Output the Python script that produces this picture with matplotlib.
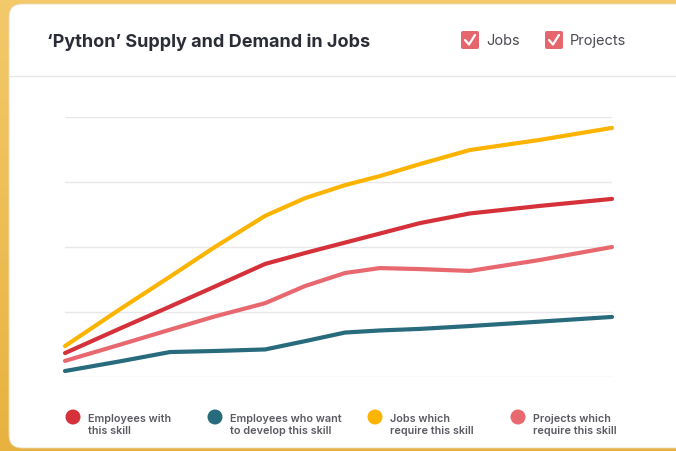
import numpy as np
import matplotlib
matplotlib.use('agg')
import matplotlib.pyplot as plt
from matplotlib.patches import FancyBboxPatch, Circle

# x positions along the timeline (0..100) and series values (0..100 scale)
x = [0, 10, 19.2, 27.4, 36.6, 43.9, 51.2, 57.6, 64.9, 74, 86.8, 100]
employees_with = [9.2, 18.6, 27.1, 34.8, 43.5, 47.7, 51.7, 55.2, 59.2, 62.9, 65.8, 68.5]
employees_want = [2.3, 6.0, 9.6, 10.0, 10.6, 13.8, 17.1, 17.9, 18.5, 19.6, 21.3, 23.1]
jobs_require = [11.9, 26.0, 38.6, 50.0, 62.0, 68.8, 73.8, 77.3, 81.9, 87.3, 91.2, 95.8]
projects_require = [6.2, 12.4, 18.2, 23.3, 28.4, 35.0, 40.0, 41.9, 41.5, 40.8, 45.0, 50.0]

series_labels = ["Employees with\nthis skill", "Employees who want\nto develop this skill",
                 "Jobs which\nrequire this skill", "Projects which\nrequire this skill"]
colors = ["#d5313a", "#286b7d", "#fdb400", "#e8686f"]
grid_vals = [0, 25, 50, 75, 100]

W, H = 676, 452
fig = plt.figure(figsize=(W / 100, H / 100), dpi=100)

# background: gold frame + white card (pixel coordinates)
bg = fig.add_axes([0, 0, 1, 1])
bg.set_xlim(0, W)
bg.set_ylim(H, 0)
bg.axis('off')
grad = np.linspace(0, 1, 100).reshape(-1, 1)
cmap = matplotlib.colors.LinearSegmentedColormap.from_list('g', ['#f4c96a', '#e8b23f'])
bg.imshow(grad, cmap=cmap, extent=[0, W, H, 0], aspect='auto', zorder=0)
card = FancyBboxPatch((9, 5), 760, 444, boxstyle="round,pad=0,rounding_size=13",
                      fc='white', ec='#e9dcc0', lw=0.6, zorder=1)
bg.add_patch(card)
bg.plot([9, W], [77, 77], color='#e6e6e6', lw=1, zorder=2)

bg.text(47, 42, "\u2018Python\u2019 Supply and Demand in Jobs", fontsize=13,
        fontfamily='Inter', fontweight='bold', color='#2b2d36', va='center', zorder=3)

# checkboxes
for cx, label in [(461, "Jobs"), (545, "Projects")]:
    box = FancyBboxPatch((cx, 32), 18, 18, boxstyle="round,pad=0,rounding_size=2",
                         fc='#e5676d', ec='none', zorder=3)
    bg.add_patch(box)
    bg.plot([cx + 4, cx + 8, cx + 14], [41, 45.5, 36], color='white', lw=1.6,
            solid_capstyle='round', solid_joinstyle='round', zorder=4)
    bg.text(cx + 25, 41, label, fontsize=10.5, fontfamily='Inter', color='#4a4a52',
            va='center', zorder=3)

# legend
for lx, c, lab in zip([73, 215, 375, 518], colors, series_labels):
    bg.add_patch(Circle((lx, 418), 7.5, fc=c, ec='none', zorder=3))
    bg.text(lx + 15, 425, lab, fontsize=7.8, fontfamily='Inter', fontweight='semibold',
            color='#5a5a62', va='center', linespacing=1.3, zorder=3)

# main chart
ax = fig.add_axes([65 / W, 1 - 378 / H, 547 / W, 260 / H])
ax.set_xlim(0, 100)
ax.set_ylim(0, 100)
ax.patch.set_alpha(0)
for s in ax.spines.values():
    s.set_visible(False)
ax.set_xticks([])
ax.set_yticks([])
for g in grid_vals:
    ax.axhline(g, color='#e8e8e8', lw=1, zorder=1)

for vals, c in zip([employees_want, projects_require, employees_with, jobs_require],
                   [colors[1], colors[3], colors[0], colors[2]]):
    ax.plot(x, vals, color=c, lw=3.0, solid_capstyle='round', solid_joinstyle='round',
            clip_on=False, zorder=3)

fig.savefig('out.png', dpi=100)
